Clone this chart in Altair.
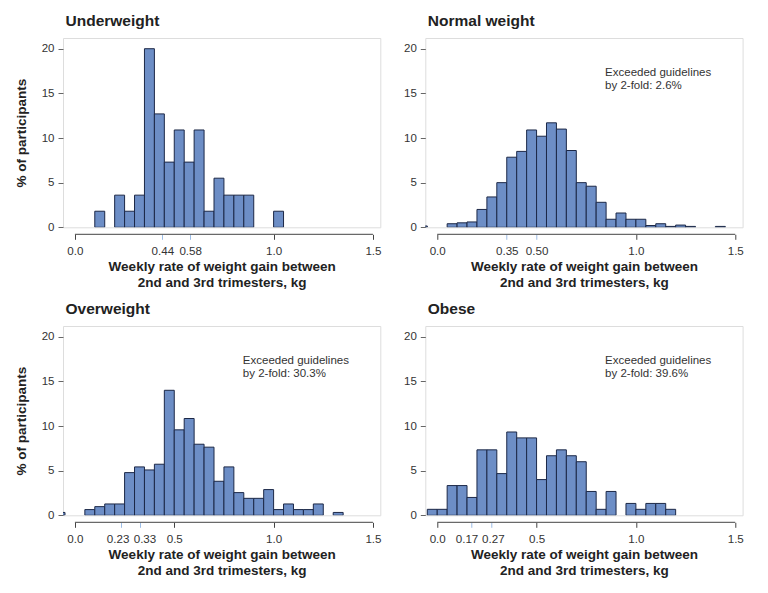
import altair as alt
import pandas as pd

# ---------------- data ----------------
panel_titles = ["Underweight", "Normal weight", "Overweight", "Obese"]

uw_bins = [0.10, 0.20, 0.25, 0.30, 0.35, 0.40, 0.45, 0.50, 0.55, 0.60, 0.65, 0.70, 0.75, 0.80, 0.85, 1.00]
uw_pct = [1.8, 3.6, 1.8, 3.6, 20.0, 12.7, 7.3, 10.9, 7.3, 10.9, 1.8, 5.5, 3.6, 3.6, 3.6, 1.8]

nw_bins = [-0.10, 0.05, 0.10, 0.15, 0.20, 0.25, 0.30, 0.35, 0.40, 0.45, 0.50, 0.55, 0.60, 0.65,
           0.70, 0.75, 0.80, 0.85, 0.90, 0.95, 1.00, 1.05, 1.10, 1.15, 1.20, 1.25, 1.40]
nw_pct = [0.15, 0.4, 0.5, 0.6, 2.0, 3.4, 5.0, 7.85, 8.5, 10.9, 10.2, 11.7, 11.0, 8.6,
          5.0, 4.6, 2.8, 0.9, 1.6, 0.9, 0.9, 0.2, 0.4, 0.1, 0.25, 0.1, 0.1]

ow_bins = [-0.10, 0.05, 0.10, 0.15, 0.20, 0.25, 0.30, 0.35, 0.40, 0.45, 0.50, 0.55, 0.60, 0.65,
           0.70, 0.75, 0.80, 0.85, 0.90, 0.95, 1.00, 1.05, 1.10, 1.15, 1.20, 1.30]
ow_pct = [0.32, 0.64, 0.97, 1.27, 1.27, 4.78, 5.42, 5.08, 5.72, 14.0, 9.57, 10.84, 7.96, 7.63,
          3.81, 5.42, 2.54, 1.9, 1.9, 2.88, 0.64, 1.27, 0.64, 0.64, 1.27, 0.32]

ob_bins = [-0.05, 0.00, 0.05, 0.10, 0.15, 0.20, 0.25, 0.30, 0.35, 0.40, 0.45, 0.50, 0.55, 0.60,
           0.65, 0.70, 0.75, 0.80, 0.85, 0.95, 1.00, 1.05, 1.10, 1.15]
ob_pct = [0.67, 0.67, 3.33, 3.33, 2.0, 7.33, 7.33, 4.67, 9.33, 8.67, 8.67, 4.0, 6.67, 7.33,
          6.67, 6.0, 2.67, 0.67, 2.67, 1.33, 0.67, 1.33, 1.33, 0.67]

bins_all = [uw_bins, nw_bins, ow_bins, ob_bins]
pct_all = [uw_pct, nw_pct, ow_pct, ob_pct]

# x tick values / labels per panel and the highlighted (guideline) ticks
tick_vals = [[0.0, 0.44, 0.58, 1.0, 1.5],
             [0.0, 0.35, 0.50, 1.0, 1.5],
             [0.0, 0.23, 0.33, 0.5, 1.0, 1.5],
             [0.0, 0.17, 0.27, 0.5, 1.0, 1.5]]
tick_labels = [["0.0", "0.44", "0.58", "1.0", "1.5"],
               ["0.0", "0.35", "0.50", "1.0", "1.5"],
               ["0.0", "0.23", "0.33", "0.5", "1.0", "1.5"],
               ["0.0", "0.17", "0.27", "0.5", "1.0", "1.5"]]
guide_ticks = [[0.44, 0.58], [0.35, 0.50], [0.23, 0.33], [0.17, 0.27]]
# small sideways nudges (px) of crowded tick labels, as in the original
label_nudge = [[0, 0], [0, 0], [-3, 4], [-4.5, 2]]

annot_text = [None, "by 2-fold: 2.6%", "by 2-fold: 30.3%", "by 2-fold: 39.6%"]
annot_x = 0.845
annot_y = 17.0

y_ticks = [0, 5, 10, 15, 20]
bin_width = 0.05

# ---------------- style ----------------
FONT = "Liberation Sans"
W, H = 317.3, 189.3
X_DOMAIN = [-0.06, 1.537]
Y_DOMAIN = [0, 21.2]
BAR_FILL = "#6d8ec6"
BAR_STROKE = "#1c2847"
GUIDE_COL = "#9dbde6"


def near(v):
    return f"abs(datum.value - {v}) < 1e-6"


def panel(i):
    df = pd.DataFrame({"start": bins_all[i], "pct": pct_all[i]})
    df["end"] = df["start"] + bin_width

    test = " || ".join(near(v) for v in guide_ticks[i])
    lab_expr = "".join(
        f"{near(v)} ? '{l}' : " for v, l in zip(tick_vals[i], tick_labels[i])
    ) + "''"
    offset_cond = {
        "condition": [{"test": near(v), "value": d} for v, d in zip(guide_ticks[i], label_nudge[i])],
        "value": 0,
    }

    xtitle = ["Weekly rate of weight gain between", "2nd and 3rd trimesters, kg"]
    xaxis = alt.Axis(
        values=tick_vals[i], labelExpr=lab_expr, title=xtitle,
        offset=7, domain=False, grid=False, tickSize=5, tickWidth=1,
        tickColor=alt.condition(test, alt.value(GUIDE_COL), alt.value("#444444")),
        labelOffset=offset_cond,
        labelOverlap=False, labelFlush=False, labelBound=False,
        labelFont=FONT, labelFontSize=11.6, labelColor="#333333", labelPadding=6,
        titleFont=FONT, titleFontSize=13.5, titleFontWeight="bold", titleColor="#222222",
        titlePadding=3, titleLineHeight=15.5,
    )
    left = i % 2 == 0
    ytitle = "% of participants" if left else ""
    yaxis = alt.Axis(
        values=y_ticks, domain=False, grid=False, tickSize=5, tickColor="#666666",
        labelFont=FONT, labelFontSize=11.5, labelColor="#333333", labelPadding=4,
        title=ytitle,
        titleFont=FONT, titleFontSize=13.5, titleFontWeight="bold", titleColor="#222222",
        titlePadding=13,
    )
    xscale = alt.Scale(domain=X_DOMAIN, nice=False, zero=False)
    yscale = alt.Scale(domain=Y_DOMAIN, nice=False)

    bars = alt.Chart(df).mark_bar(
        fill=BAR_FILL, stroke=BAR_STROKE, strokeWidth=1, clip=True
    ).encode(
        x=alt.X("start:Q", scale=xscale, axis=xaxis, title=xtitle),
        x2="end:Q",
        y=alt.Y("pct:Q", scale=yscale, axis=yaxis, title=ytitle),
        y2=alt.datum(0),
    )

    axis_line = alt.Chart(pd.DataFrame({"a": [tick_vals[i][0]], "b": [tick_vals[i][-1]]})).mark_rule(
        color="#444444", strokeWidth=1
    ).encode(
        x=alt.X("a:Q", scale=xscale, axis=xaxis, title=xtitle), x2="b:Q", y=alt.value(H + 7)
    )

    layers = [bars, axis_line]
    if annot_text[i]:
        tdf = pd.DataFrame({"x": [annot_x], "y": [annot_y],
                            "t": ["Exceeded guidelines\n" + annot_text[i]]})
        txt = alt.Chart(tdf).mark_text(
            align="left", baseline="alphabetic", font=FONT, fontSize=11.5,
            color="#333333", lineBreak="\n", lineHeight=13.5
        ).encode(
            x=alt.X("x:Q", scale=xscale, axis=xaxis, title=xtitle),
            y=alt.Y("y:Q", scale=yscale, axis=yaxis, title=ytitle),
            text="t:N",
        )
        layers.append(txt)

    return alt.layer(*layers).properties(
        width=W, height=H,
        title=alt.TitleParams(
            text=panel_titles[i], anchor="start", frame="group", dx=2.5, offset=-3,
            baseline="alphabetic", font=FONT, fontSize=15.5, fontWeight="bold", color="#222222"
        ),
    )


chart = alt.concat(
    panel(0), panel(1), panel(2), panel(3), columns=2,
    spacing={"row": 98, "column": 44.3}, bounds="flush",
).properties(
    padding={"left": 5, "top": 5, "right": 5, "bottom": 5}
).configure_view(
    stroke="#7a7a7a", strokeWidth=1
).configure(background="white")

chart.save("out.html", embed_options={"renderer": "svg", "actions": False})
